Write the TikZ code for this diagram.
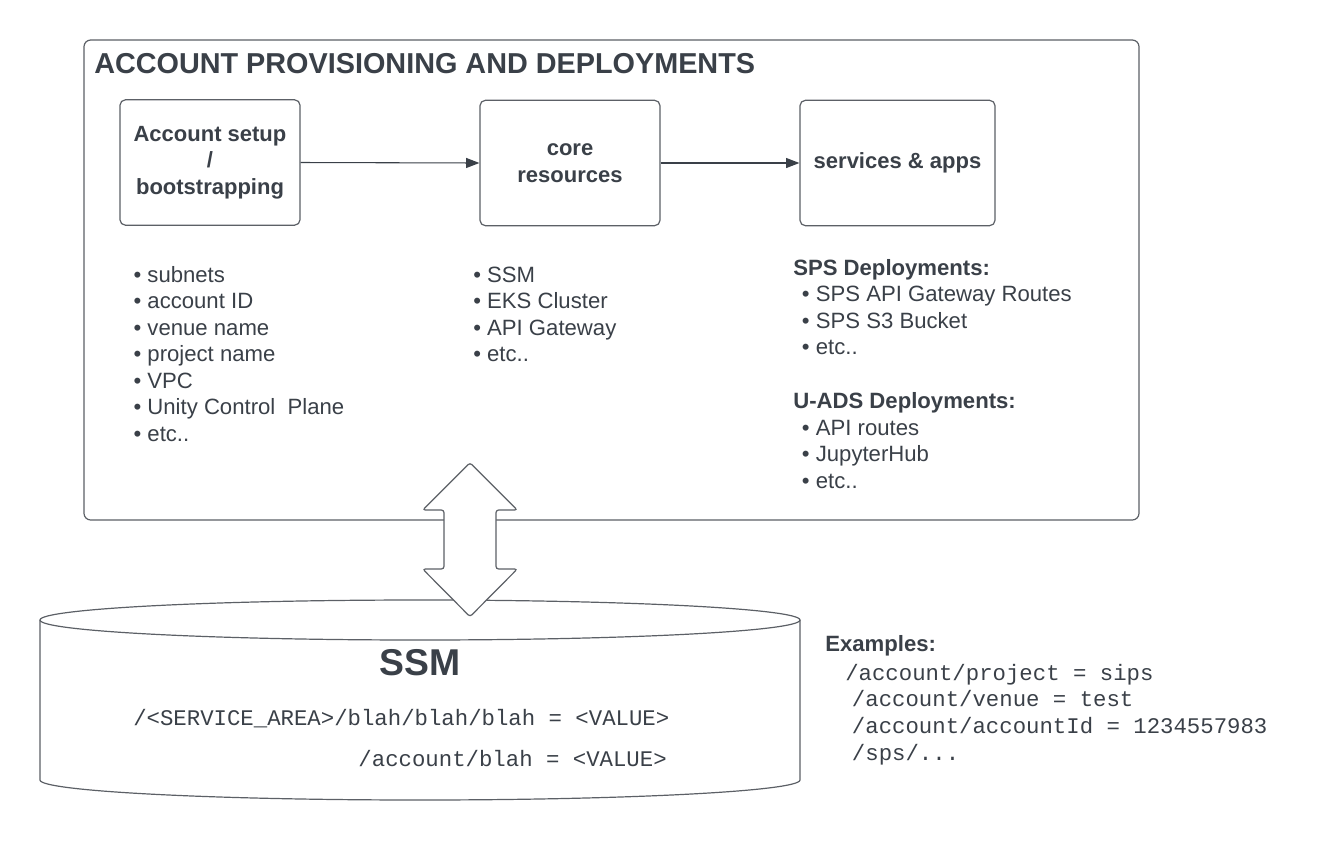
\documentclass[tikz,border=0pt]{standalone}
\usepackage{fontspec}
\setmainfont{Liberation Sans}
\setmonofont{Liberation Mono}
\usetikzlibrary{arrows.meta}
\definecolor{txt}{RGB}{58,64,72}
\definecolor{ln}{RGB}{92,96,102}
\begin{document}
\begin{tikzpicture}[x=0.75pt,y=0.75pt,
  every node/.style={text=txt, inner sep=0pt},
  stagebox/.style={draw=ln, line width=0.9pt, rounded corners=4pt, fill=white, align=center,
    minimum height=94pt, font=\fontsize{16.5}{20}\selectfont\bfseries},
  item/.style={anchor=base west, font=\fontsize{16.6}{20}\selectfont},
  head/.style={anchor=base west, font=\fontsize{16.6}{20}\selectfont\bfseries},
  code/.style={font=\fontsize{16.75}{20}\selectfont\ttfamily},
  flow/.style={-{Triangle[length=10pt,width=7.5pt]}, draw=txt, line width=0.8pt},
  frame/.style={draw=ln, line width=0.9pt, fill=white}
]
\useasboundingbox (0,0) rectangle (1340,-840);

% outer frame
\draw[frame, rounded corners=5pt] (84,-40) rectangle (1139,-520);
\node[anchor=base west, font=\fontsize{21.6}{25}\selectfont\bfseries] (title) at (94,-73.3) {ACCOUNT PROVISIONING AND DEPLOYMENTS};

% stage boxes
\node[stagebox, minimum width=135pt] (setup) at (210,-162.5) {Account setup\\/\\bootstrapping};
\node[stagebox, minimum width=135pt] (core) at (570,-163) {core\\resources};
\node[stagebox, minimum width=146.25pt] (apps) at (897.5,-163) {services \& apps};
\draw[flow] (setup.east) -- (core.west);
\draw[flow] (core.east) -- (apps.west);

% lists
\foreach \t [count=\i] in {subnets, account ID, venue name, project name, VPC, Unity Control\ \ Plane, etc..}
  \node[item] (a\i) at (133.3,{-282-26.5*(\i-1)}) {\textbullet\ \t};
\foreach \t [count=\i] in {SSM, EKS Cluster, API Gateway, etc..}
  \node[item] (b\i) at (473,{-282-26.5*(\i-1)}) {\textbullet\ \t};
\node[head] (sps) at (793,-275) {SPS Deployments:};
\foreach \t [count=\i] in {SPS API Gateway Routes, SPS S3 Bucket, etc..}
  \node[item] (c\i) at (801.7,{-301.7-26.5*(\i-1)}) {\textbullet\ \t};
\node[head] (uads) at (793,-408) {U-ADS Deployments:};
\foreach \t [count=\i] in {API routes, JupyterHub, etc..}
  \node[item] (d\i) at (801.7,{-435-26.5*(\i-1)}) {\textbullet\ \t};

% cylinder
\draw[frame] (40,-620) -- (40,-780) arc[start angle=180,end angle=360,x radius=380,y radius=20]
  -- (800,-620) arc[start angle=0,end angle=180,x radius=380,y radius=20] -- cycle;
\draw[ln, line width=0.9pt] (40,-620) arc[start angle=180,end angle=360,x radius=380,y radius=20];
\node[anchor=base, font=\fontsize{28}{30}\selectfont\bfseries] (ssm) at (420,-675) {SSM};
\node[code, anchor=base west] (p1) at (133,-725) {/<SERVICE\_AREA>/blah/blah/blah = <VALUE>};
\node[code, anchor=base east] (p2) at (667,-766.7) {/account/blah = <VALUE>};

% double arrow
\draw[ln, fill=white, line width=0.9pt, rounded corners=2pt]
  (470,-462.7) -- (517.3,-510) -- (496,-510) -- (496,-569) -- (517.3,-569) -- (470,-616.7)
  -- (422.7,-569) -- (444,-569) -- (444,-510) -- (422.7,-510) -- cycle;

% examples
\node[head] (ex) at (825,-651.7) {Examples:};
\node[code, anchor=base west] (e1) at (845,-680) {/account/project = sips};
\node[code, anchor=base west] (e2) at (851.7,-706.7) {/account/venue = test};
\node[code, anchor=base west] (e3) at (851.7,-733.3) {/account/accountId = 1234557983};
\node[code, anchor=base west] (e4) at (851.7,-760) {/sps/...};
\end{tikzpicture}
\end{document}
